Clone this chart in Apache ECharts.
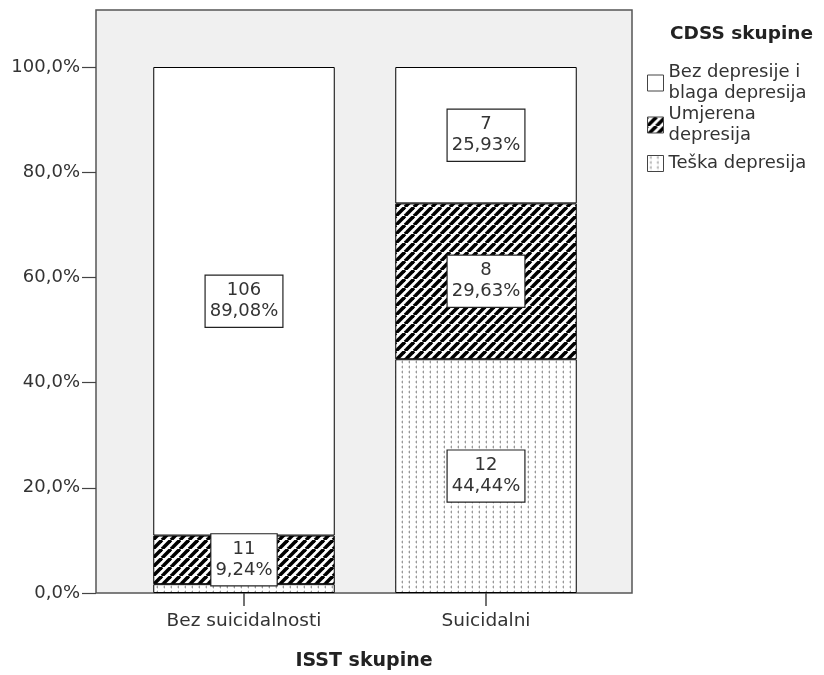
<!DOCTYPE html>
<html>
<head>
<meta charset="utf-8">
<script src="https://cdn.jsdelivr.net/npm/echarts@6/dist/echarts.min.js"></script>
<style>
html,body{margin:0;padding:0;background:#fff;}
#chart{width:824px;height:675px;}
</style>
</head>
<body>
<div id="chart"></div>
<script>
// ---- data ----
var categories = ['Bez suicidalnosti', 'Suicidalni'];
var seriesNames = ['Teška depresija', 'Umjerena depresija', 'Bez depresije i blaga depresija'];
var teskaPct = [1.68, 44.44];
var teskaCount = [2, 12];
var umjerenaPct = [9.24, 29.63];
var umjerenaCount = [11, 8];
var bezPct = [89.08, 25.93];
var bezCount = [106, 7];
var yTicks = [0, 20, 40, 60, 80, 100];

// ---- fill patterns ----
function stripePattern() {
  var s = 9;
  var c = document.createElement('canvas');
  c.width = s; c.height = s;
  var g = c.getContext('2d');
  g.fillStyle = '#fff'; g.fillRect(0, 0, s, s);
  g.strokeStyle = '#000'; g.lineWidth = 3.6;
  [-s, 0, s].forEach(function (k) {
    g.beginPath(); g.moveTo(k, s); g.lineTo(k + s, 0); g.stroke();
  });
  return c;
}
function dotPattern() {
  var c = document.createElement('canvas');
  c.width = 7; c.height = 5;
  var g = c.getContext('2d');
  g.fillStyle = '#fff'; g.fillRect(0, 0, 7, 5);
  g.fillStyle = '#dcdcdc'; g.fillRect(2, 1, 1, 2); g.fillRect(3, 0, 1, 1); g.fillRect(3, 3, 1, 1);
  g.fillStyle = '#999'; g.fillRect(3, 1, 1, 2);
  return c;
}
var fills = [
  { image: dotPattern(), repeat: 'repeat' },
  { image: stripePattern(), repeat: 'repeat' },
  '#ffffff'
];
var pcts = [teskaPct, umjerenaPct, bezPct];
var counts = [teskaCount, umjerenaCount, bezCount];

function fmtPct(v) { return v.toFixed(2).replace('.', ',') + '%'; }

var FONT = 'DejaVu Sans';
var series = seriesNames.map(function (name, si) {
  return {
    name: name,
    type: 'bar',
    stack: 'total',
    xAxisIndex: 1,
    yAxisIndex: 1,
    barWidth: '75%',
    itemStyle: { color: fills[si], borderColor: '#000', borderWidth: 1 },
    data: pcts[si].map(function (v, i) {
      return { value: v, label: { show: v > 5 } };
    }),
    label: {
      position: 'inside',
      formatter: function (p) {
        return counts[si][p.dataIndex] + '\n' + fmtPct(pcts[si][p.dataIndex]);
      },
      backgroundColor: '#fff',
      borderColor: '#222',
      borderWidth: 1.2,
      padding: [5, 4, 4, 4],
      color: '#333',
      fontFamily: FONT,
      fontSize: 18,
      lineHeight: 21,
      align: 'center'
    },
    emphasis: { disabled: true },
    animation: false
  };
});

function legendFor(name, top) {
  return {
    data: [{ name: name, icon: 'rect' }],
    left: 647,
    top: top,
    padding: 0,
    orient: 'vertical',
    itemWidth: 16,
    itemHeight: 16,
    selectedMode: false,
    formatter: function (n) {
      if (n === 'Bez depresije i blaga depresija') return 'Bez depresije i\nblaga depresija';
      if (n === 'Umjerena depresija') return 'Umjerena\ndepresija';
      return n;
    },
    itemStyle: { borderColor: '#444', borderWidth: 1 },
    textStyle: { fontFamily: FONT, fontSize: 18, lineHeight: 21, color: '#333' }
  };
}

var chart = echarts.init(document.getElementById('chart'), null, { renderer: 'canvas' });
chart.setOption({
  animation: false,
  backgroundColor: '#fff',
  title: [
    { text: 'CDSS skupine', left: 670, top: 25, padding: 0,
      textStyle: { fontFamily: FONT, fontSize: 18.5, fontWeight: 'bold', color: '#222' } },
    { text: 'ISST skupine', left: 364, top: 652, padding: 0, textAlign: 'center',
      textStyle: { fontFamily: FONT, fontSize: 19, fontWeight: 'bold', color: '#222' } }
  ],
  legend: [
    legendFor('Bez depresije i blaga depresija', 62),
    legendFor('Umjerena depresija', 104),
    legendFor('Teška depresija', 153)
  ],
  grid: [
    { left: 96, top: 10, width: 536, height: 583, show: true,
      backgroundColor: '#f0f0f0', borderColor: '#555', borderWidth: 1.5 },
    { left: 123, top: 67, width: 484, height: 526 }
  ],
  xAxis: [
    { gridIndex: 0, type: 'value', show: false, min: 0, max: 1 },
    { gridIndex: 1, type: 'category', data: categories,
      axisLine: { show: false },
      axisTick: { show: true, alignWithLabel: true, length: 13, lineStyle: { color: '#444', width: 1.5 } },
      axisLabel: { margin: 19, color: '#333', fontFamily: FONT, fontSize: 18.5 } }
  ],
  yAxis: [
    { gridIndex: 0, type: 'value', show: false, min: 0, max: 1 },
    { gridIndex: 1, type: 'value', min: yTicks[0], max: yTicks[yTicks.length - 1], interval: 20,
      offset: 27,
      axisLine: { show: false },
      axisTick: { show: true, length: 14, lineStyle: { color: '#444', width: 1.2 } },
      splitLine: { show: false },
      axisLabel: { margin: 16, color: '#333', fontFamily: FONT, fontSize: 18,
        formatter: function (v) { return v.toFixed(1).replace('.', ',') + '%'; } } }
  ],
  series: series
});
</script>
</body>
</html>
